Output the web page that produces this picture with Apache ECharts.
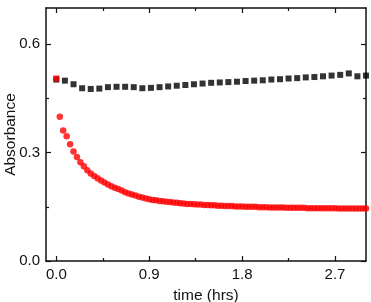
<!DOCTYPE html>
<html>
<head>
<meta charset="utf-8">
<script src="https://cdn.jsdelivr.net/npm/echarts@6/dist/echarts.min.js"></script>
<style>
  html, body { margin: 0; padding: 0; background: #fff; }
  #chart { width: 371px; height: 302px; }
</style>
</head>
<body>
<div id="chart"></div>
<script>
// sampling intervals (hours)
var blackStep = 5 / 60;
var redStep = 2 / 60;

// black squares, every 5 min from t = 0
var blackValues = [
  0.502, 0.499, 0.489, 0.478, 0.476, 0.477, 0.481, 0.482, 0.482, 0.481,
  0.478, 0.479, 0.481, 0.483, 0.485, 0.487, 0.489, 0.491, 0.493, 0.494,
  0.495, 0.496, 0.498, 0.499, 0.500, 0.502, 0.503, 0.505, 0.506, 0.508,
  0.509, 0.511, 0.513, 0.515, 0.519, 0.511, 0.513
];

// red circles, every 2 min from t = 2 min (the t = 0 point is the red square)
var redStart = 0.505;
var redValues = [
  0.399, 0.361, 0.345, 0.323, 0.303, 0.288, 0.273, 0.262, 0.251, 0.242,
  0.235, 0.229, 0.223, 0.217, 0.212, 0.207, 0.203, 0.199, 0.195, 0.190,
  0.187, 0.184, 0.181, 0.178, 0.176, 0.173, 0.171, 0.169, 0.168, 0.166,
  0.165, 0.164, 0.163, 0.162, 0.161, 0.160, 0.159, 0.158, 0.158, 0.157,
  0.156, 0.156, 0.155, 0.155, 0.154, 0.154, 0.153, 0.153, 0.152, 0.152,
  0.152, 0.151, 0.151, 0.151, 0.150, 0.150, 0.150, 0.150, 0.149, 0.149,
  0.149, 0.148, 0.148, 0.148, 0.148, 0.148, 0.147, 0.147, 0.147, 0.147,
  0.147, 0.147, 0.146, 0.146, 0.146, 0.146, 0.146, 0.146, 0.146, 0.146,
  0.146, 0.145, 0.145, 0.145, 0.145, 0.145, 0.145, 0.145, 0.145, 0.145
];

var xLabels = [0, 0.9, 1.8, 2.7];
var xMinor = [0.45, 1.35, 2.25];
var yLabels = [0, 0.3, 0.6];
var yMinor = [0.15, 0.45];

var ink = '#111';
var font = 'Liberation Sans, Arial, sans-serif';

var blackData = blackValues.map(function (v, i) { return [i * blackStep, v]; });
var redData = redValues.map(function (v, i) { return [(i + 1) * redStep, v]; });
redData.unshift({ value: [0, redStart], symbol: 'rect', symbolSize: 6 });

function makeAxis(pos, min, max, ticks, len, labels, lineOn) {
  return {
    type: 'value', position: pos, min: min, max: max,
    axisLine: { show: lineOn, onZero: false, lineStyle: { color: ink, width: 1.5 } },
    axisTick: { show: true, inside: true, length: len, customValues: ticks,
      lineStyle: { color: ink, width: 1.2 } },
    axisLabel: { show: !!labels, customValues: labels || [], margin: 6,
      color: ink, fontSize: 15, fontFamily: font,
      formatter: function (v) { return v.toFixed(1); } },
    splitLine: { show: false }
  };
}
function xAxis(pos, ticks, len, labels, lineOn) {
  return makeAxis(pos, -0.1, 3.0, ticks, len, labels, lineOn);
}
function yAxis(pos, ticks, len, labels, lineOn) {
  return makeAxis(pos, 0, 0.7, ticks, len, labels, lineOn);
}

var xMain = xAxis('bottom', xLabels, 5, xLabels, true);
xMain.name = 'time (hrs)';
xMain.nameLocation = 'middle';
xMain.nameGap = 27;
xMain.nameTextStyle = { color: ink, fontSize: 15.5, fontFamily: font };

var yMain = yAxis('left', yLabels, 5, yLabels, true);
yMain.name = 'Absorbance';
yMain.nameLocation = 'middle';
yMain.nameGap = 27;
yMain.nameMoveOverlap = false;
yMain.nameTextStyle = { color: ink, fontSize: 15.5, fontFamily: font };

var chart = echarts.init(document.getElementById('chart'), null, { renderer: 'canvas' });
chart.setOption({
  animation: false,
  backgroundColor: '#fff',
  grid: { left: 46, right: 5, top: 8, bottom: 41, containLabel: false, outerBoundsMode: 'none' },
  xAxis: [
    xMain,
    xAxis('bottom', xMinor, 3, null, false),
    xAxis('top', xLabels, 5, null, true),
    xAxis('top', xMinor, 3, null, false)
  ],
  yAxis: [
    yMain,
    yAxis('left', yMinor, 3, null, false),
    yAxis('right', yLabels, 5, null, true),
    yAxis('right', yMinor, 3, null, false)
  ],
  series: [
    {
      type: 'scatter', name: 'black', data: blackData,
      symbol: 'rect', symbolSize: 6,
      itemStyle: { color: '#000' }
    },
    {
      type: 'scatter', name: 'red', data: redData,
      symbol: 'circle', symbolSize: 6.5,
      itemStyle: { color: '#ff0000' }
    }
  ]
});
</script>
</body>
</html>
